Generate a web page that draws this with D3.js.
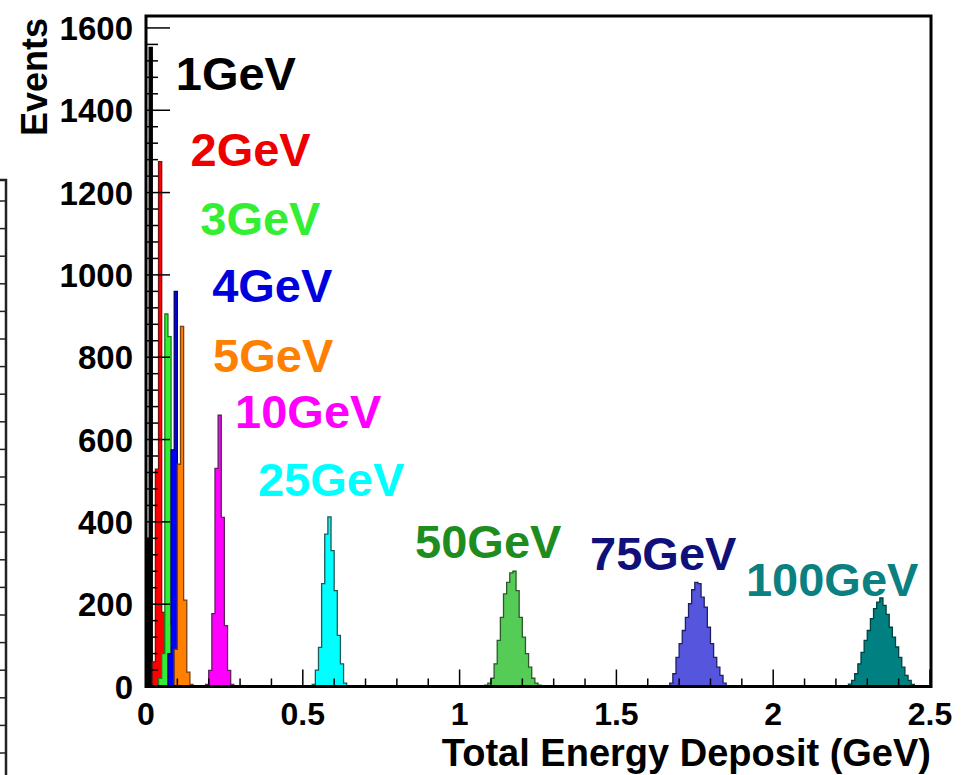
<!DOCTYPE html>
<html lang="en">
<head>
  <meta charset="UTF-8">
  <title>Total Energy Deposit</title>
  <script src="https://d3js.org/d3.v7.min.js"></script>
  <style>
    body { margin: 0; background: #fff; }
    svg { display: block; font-family: "Liberation Sans", Arial, sans-serif; font-weight: bold; }
  </style>
</head>
<body>
  <svg width="962" height="775"></svg>

  <script>
    // histogram data: 0.01 GeV bins, each series starts at a bin index
    const binWidth = 0.01;
    const labels = ["1GeV", "2GeV", "3GeV", "4GeV", "5GeV", "10GeV", "25GeV", "50GeV", "75GeV", "100GeV"];
    const startBins = [0, 2, 4, 7, 9, 19, 53, 108, 166, 223];
    const counts1GeV = [360, 1553];
    const counts2GeV = [60, 528, 1275, 180, 30];
    const counts3GeV = [20, 80, 905, 850, 150, 30];
    const counts4GeV = [80, 575, 960, 250, 60];
    const counts5GeV = [90, 540, 875, 210, 35, 5];
    const counts10GeV = [5, 39, 177, 530, 659, 411, 148, 39, 5];
    const counts25GeV = [5, 40, 95, 250, 370, 412, 330, 233, 124, 55, 8];
    const counts50GeV = [3, 8, 20, 55, 112, 168, 225, 253, 276, 280, 233, 168, 120, 80, 47, 20, 8, 3];
    const counts75GeV = [2, 8, 31, 71, 104, 136, 168, 201, 235, 253, 250, 217, 193, 144, 104, 71, 47, 27, 8, 2];
    const counts100GeV = [2, 6, 15, 31, 55, 83, 112, 136, 165, 189, 205, 215, 197, 175, 144, 120, 96, 71, 47, 27, 15, 5, 2];
    const allCounts = [counts1GeV, counts2GeV, counts3GeV, counts4GeV, counts5GeV,
                       counts10GeV, counts25GeV, counts50GeV, counts75GeV, counts100GeV];

    const xTicks = [0, 0.5, 1, 1.5, 2, 2.5];
    const yTicks = [0, 200, 400, 600, 800, 1000, 1200, 1400, 1600];

    const fills   = ["#000000", "#ff0000", "#33ee33", "#0000ff", "#ff8000", "#ff00ff", "#00ffff", "#55cc55", "#5555dd", "#008080"];
    const strokes = ["#000000", "#7a1010", "#1f7a1f", "#00006a", "#7a4010", "#602060", "#205858", "#2a5a2a", "#202060", "#004040"];
    const textCols = ["#000000", "#ee0000", "#33ee33", "#0000dd", "#ff8000", "#ff00ff", "#00ffff", "#1e8c1e", "#10107a", "#0a8080"];
    // label anchor (energy, events) for each series label
    const labelPos = [[0.095, 1450], [0.142, 1265], [0.173, 1098], [0.211, 933], [0.214, 765], [0.284, 627], [0.357, 462], [0.858, 312], [1.416, 284], [1.913, 219]];

    const svg = d3.select("svg");
    const plotLeft = 146, plotRight = 930, plotTop = 16, plotBottom = 686.5;

    const x = d3.scaleLinear().domain([0, 2.5]).range([plotLeft, plotRight]);
    const y = d3.scaleLinear().domain([0, 1629]).range([plotBottom, plotTop]);

    svg.append("rect").attr("width", 962).attr("height", 775).attr("fill", "#fff");

    // partial frame of the neighbouring panel at the left edge
    const edge = svg.append("g").attr("stroke", "#222").attr("fill", "none");
    edge.append("path").attr("d", "M0,180H6V775").attr("stroke-width", 2.5);
    d3.range(201, 775, 27.6).forEach(v => {
      edge.append("line").attr("x1", 0).attr("x2", 6).attr("y1", v).attr("y2", v).attr("stroke-width", 1.5);
    });

    // histograms
    const histG = svg.append("g");
    allCounts.forEach((counts, i) => {
      const s = startBins[i];
      const pts = [[x(s * binWidth), y(0)]];
      counts.forEach((c, j) => {
        pts.push([x((s + j) * binWidth), y(c)]);
        pts.push([x((s + j + 1) * binWidth), y(c)]);
      });
      pts.push([x((s + counts.length) * binWidth), y(0)]);
      histG.append("path")
        .attr("d", d3.line()(pts) + "Z")
        .attr("fill", fills[i])
        .attr("stroke", strokes[i])
        .attr("stroke-width", 1.3);
    });

    // axes ticks (inward, ROOT style)
    const axisG = svg.append("g").attr("stroke", "#000").attr("stroke-width", 1.5);
    d3.range(0, 1601, 40).forEach(v => {
      const len = v % 200 === 0 ? 24 : 12;
      axisG.append("line").attr("x1", plotLeft).attr("x2", plotLeft + len).attr("y1", y(v)).attr("y2", y(v));
    });
    d3.range(0, 26).forEach(k => {
      const v = k / 10;
      const len = k % 5 === 0 ? 17 : 8;
      axisG.append("line").attr("x1", x(v)).attr("x2", x(v)).attr("y1", plotBottom).attr("y2", plotBottom - len);
    });

    // frame
    svg.append("rect")
      .attr("x", plotLeft).attr("y", plotTop)
      .attr("width", 931 - plotLeft).attr("height", plotBottom - plotTop)
      .attr("fill", "none").attr("stroke", "#000").attr("stroke-width", 3);

    // tick labels
    svg.append("g").selectAll("text").data(yTicks).join("text")
      .attr("x", 133).attr("y", d => y(d) + 12)
      .attr("text-anchor", "end").attr("font-size", 33)
      .text(d => d);
    svg.append("g").selectAll("text").data(xTicks).join("text")
      .attr("x", d => x(d)).attr("y", 725)
      .attr("text-anchor", "middle").attr("font-size", 32)
      .text(d => d);

    // axis titles
    svg.append("text")
      .attr("x", 931).attr("y", 766)
      .attr("text-anchor", "end").attr("font-size", 38)
      .text("Total Energy Deposit (GeV)");
    svg.append("text")
      .attr("transform", "translate(47,18) rotate(-90)")
      .attr("text-anchor", "end").attr("font-size", 36)
      .text("Events");

    // series labels
    svg.append("g").selectAll("text").data(labels).join("text")
      .attr("x", (d, i) => x(labelPos[i][0]))
      .attr("y", (d, i) => y(labelPos[i][1]))
      .attr("font-size", 47)
      .attr("fill", (d, i) => textCols[i])
      .text(d => d);
  </script>
</body>
</html>
